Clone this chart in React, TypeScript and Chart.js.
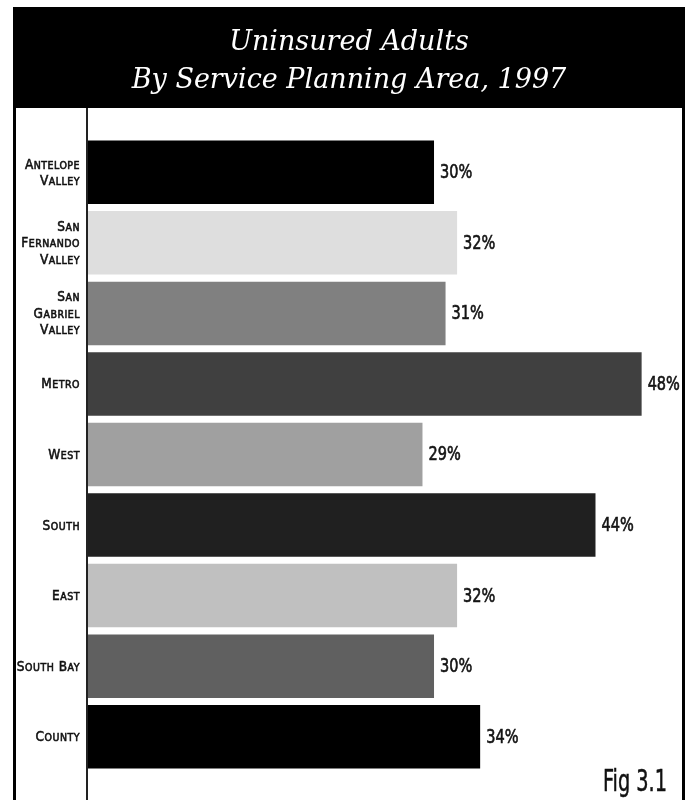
import React, { useEffect, useRef } from 'react';
import { Chart, registerables } from 'chart.js';

Chart.register(...registerables);

const categories: (string | string[])[] = [
  ['Antelope', 'Valley'],
  ['San', 'Fernando', 'Valley'],
  ['San', 'Gabriel', 'Valley'],
  'Metro',
  'West',
  'South',
  'East',
  'South Bay',
  'County',
];
const values = [30, 32, 31, 48, 29, 44, 32, 30, 34];
const barColors = ['#000000', '#dedede', '#808080', '#404040', '#a0a0a0', '#202020', '#c0c0c0', '#606060', '#000000'];
const titleLines = ['Uninsured Adults', 'By Service Planning Area, 1997'];
const figLabel = 'Fig 3.1';

const W = 688;
const H = 800;
const SANS = '"DejaVu Sans Condensed", "DejaVu Sans", sans-serif';

function fillStroke(ctx: CanvasRenderingContext2D, t: string, x: number, y: number, sw: number) {
  ctx.fillText(t, x, y);
  if (sw > 0) {
    ctx.lineWidth = sw;
    ctx.strokeText(t, x, y);
  }
}

function drawSmallCaps(ctx: CanvasRenderingContext2D, text: string, rightX: number, y: number) {
  const big = `13.5px ${SANS}`;
  const small = `10.5px ${SANS}`;
  const words = text.split(' ');
  const gap = 4.5;
  (ctx as any).letterSpacing = '0.5px';
  const parts: { t: string; f: string; w: number }[] = [];
  words.forEach((wd, wi) => {
    const first = wd.charAt(0).toUpperCase();
    const rest = wd.slice(1).toUpperCase();
    ctx.font = big;
    parts.push({ t: first, f: big, w: ctx.measureText(first).width });
    if (rest) {
      ctx.font = small;
      parts.push({ t: rest, f: small, w: ctx.measureText(rest).width });
    }
    if (wi < words.length - 1) parts.push({ t: '', f: small, w: gap });
  });
  const total = parts.reduce((s, p) => s + p.w, 0);
  let x = rightX - total;
  ctx.textAlign = 'left';
  ctx.textBaseline = 'alphabetic';
  parts.forEach((p) => {
    if (p.t) {
      ctx.font = p.f;
      fillStroke(ctx, p.t, x, y, 0.55);
    }
    x += p.w;
  });
  (ctx as any).letterSpacing = '0px';
}

const framePlugin = {
  id: 'frame',
  beforeDraw(chart: any) {
    const ctx = chart.ctx as CanvasRenderingContext2D;
    ctx.save();
    ctx.fillStyle = '#ffffff';
    ctx.fillRect(0, 0, W, H);
    ctx.fillStyle = '#000000';
    ctx.fillRect(13, 7, 672, 101);
    ctx.fillRect(13, 7, 3, H);
    ctx.fillRect(682, 7, 3, H);
    ctx.fillStyle = '#222222';
    ctx.fillRect(86, 108, 2, H);
    ctx.restore();
  },
  afterDraw(chart: any) {
    const ctx = chart.ctx as CanvasRenderingContext2D;
    ctx.save();
    ctx.fillStyle = '#ffffff';
    ctx.textAlign = 'center';
    ctx.textBaseline = 'alphabetic';
    ctx.font = 'italic 27px "DejaVu Serif"';
    ctx.fillText(titleLines[0], 349, 50);
    ctx.fillText(titleLines[1], 349, 88);

    // category labels, positioned by the y scale
    const yScale = chart.scales.y;
    ctx.fillStyle = '#111111';
    ctx.strokeStyle = '#111111';
    const lh = 16.5;
    categories.forEach((c, i) => {
      const lines = Array.isArray(c) ? c : [c];
      const cy = yScale.getPixelForValue(i);
      const y0 = cy - ((lines.length - 1) * lh) / 2 + 4.5;
      lines.forEach((ln, k) => drawSmallCaps(ctx, ln, 80, y0 + k * lh));
    });

    // figure label
    ctx.fillStyle = '#111111';
    ctx.strokeStyle = '#111111';
    ctx.font = `30px ${SANS}`;
    const fw = ctx.measureText(figLabel).width;
    const sx = 64 / fw;
    ctx.save();
    ctx.translate(667 - 64, 791);
    ctx.scale(sx, 1);
    ctx.textAlign = 'left';
    fillStroke(ctx, figLabel, 0, 0, 0.5);
    ctx.restore();
    ctx.restore();
  },
};

const valueLabelPlugin = {
  id: 'valueLabels',
  afterDatasetsDraw(chart: any) {
    const ctx = chart.ctx as CanvasRenderingContext2D;
    const meta = chart.getDatasetMeta(0);
    ctx.save();
    ctx.fillStyle = '#141414';
    ctx.strokeStyle = '#141414';
    ctx.font = `19px ${SANS}`;
    ctx.textAlign = 'left';
    ctx.textBaseline = 'middle';
    meta.data.forEach((bar: any, i: number) => {
      ctx.save();
      ctx.translate(bar.x + 6, bar.y + 1);
      ctx.scale(0.85, 1);
      fillStroke(ctx, values[i] + '%', 0, 0, 0.6);
      ctx.restore();
    });
    ctx.restore();
  },
};

export default function App() {
  const ref = useRef<HTMLCanvasElement>(null);
  useEffect(() => {
    if (!ref.current) return;
    const chart = new Chart(ref.current, {
      type: 'bar',
      data: {
        labels: categories,
        datasets: [
          {
            data: values,
            backgroundColor: barColors,
            borderWidth: 0,
            barPercentage: 0.9,
            categoryPercentage: 1,
          },
        ],
      },
      options: {
        indexAxis: 'y',
        responsive: false,
        animation: false,
        devicePixelRatio: 1,
        layout: { padding: { top: 137, bottom: 28, left: 16, right: 6 } },
        plugins: { legend: { display: false }, tooltip: { enabled: false }, title: { display: false } },
        scales: {
          x: { display: false, min: 0, max: 51.5 },
          y: {
            grid: { display: false, drawTicks: false },
            border: { display: false },
            ticks: { display: false },
            afterFit(scale: any) {
              scale.width = 72;
            },
          },
        },
      },
      plugins: [framePlugin, valueLabelPlugin],
    });
    return () => chart.destroy();
  }, []);
  return (
    <div style={{ position: 'absolute', left: 0, top: 0, width: W, height: H }}>
      <canvas ref={ref} width={W} height={H} style={{ display: 'block', width: W, height: H }} />
    </div>
  );
}
